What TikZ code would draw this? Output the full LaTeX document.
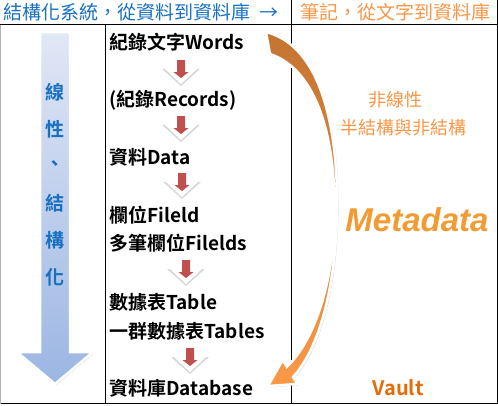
\documentclass[tikz,border=0pt]{standalone}
\usepackage{fontspec}
\setmainfont{Noto Sans CJK TC}[BoldFont={Noto Sans CJK TC Bold}]
\newfontfamily\metafont{Liberation Sans}
\usepackage{xcolor}
\usetikzlibrary{shadows}

\definecolor{headblue}{RGB}{23,112,192}
\definecolor{headorange}{RGB}{247,150,70}
\definecolor{vaultorange}{RGB}{228,108,10}
\definecolor{stepred}{RGB}{192,80,77}
\definecolor{arrowtop}{RGB}{225,231,245}
\definecolor{arrowbot}{RGB}{155,182,227}
\definecolor{curvetop}{RGB}{196,116,50}
\definecolor{curvebot}{RGB}{250,152,70}
\definecolor{metaorange}{RGB}{242,155,50}

\begin{document}
\begin{tikzpicture}[
    x=1pt, y=-1pt,
    every node/.style={inner sep=0pt},
    gridline/.style={black, line width=0.9pt},
    headtext/.style={anchor=west, font=\fontsize{19}{22}\selectfont},
    item/.style={anchor=west, font=\bfseries\fontsize{19}{22}\selectfont},
    vtext/.style={headblue, font=\bfseries\fontsize{19}{22}\selectfont},
    notetext/.style={headorange, font=\fontsize{18}{21}\selectfont},
    steparrow/.pic={
        \fill[gray!30] (-7,-11) -- (7,-11) -- (7,-3) -- (19,-3) -- (0,14) -- (-19,-3) -- (-7,-3) -- cycle;
        \fill[white] (-7,-13) -- (7,-13) -- (7,-5) -- (18,-5) -- (0,12) -- (-18,-5) -- (-7,-5) -- cycle;
        \fill[stepred] (-4,-12) -- (4,-12) -- (4,0) -- (7.5,0) -- (0,6) -- (-7.5,0) -- (-4,0) -- cycle;
    }
]

\useasboundingbox (0,0) rectangle (498,405);

% Table rules
\draw[gridline] (0,24.5) -- (497.5,24.5);
\draw[gridline] (0,403.5) -- (497.5,403.5);
\draw[gridline] (291,0) -- (291,403.5);
\draw[gridline] (105.5,24.5) -- (105.5,403.5);
\draw[gridline] (497.5,0) -- (497.5,403.5);
\draw[gray!60, line width=0.8pt] (0.5,24.5) -- (0.5,403.5);

% Header row
\node[headtext, headblue] (headleft) at (3,12)
    {結構化系統，從資料到資料庫\hspace{9pt}→};
\node[headtext, headorange] (headright) at (300,12)
    {筆記，從文字到資料庫};

% Big down arrow
\draw[white, line width=2.5pt, top color=arrowtop, bottom color=arrowbot,
      drop shadow={opacity=0.25, shadow xshift=1pt, shadow yshift=-1.5pt}]
    (40,32) -- (70,32) -- (70,352) -- (93,352)
    -- (55,384) -- (17,352) -- (40,352) -- cycle;

\foreach \c [count=\i] in {線,性,、,結,構,化}
    \node[vtext] (v\i) at (55,{92+37*(\i-1)}) {\c};

% Steps
\node[item] (words) at (109,42) {紀錄文字Words};
\node[item] (records) at (109,100) {(紀錄Records)};
\node[item] (data) at (109,157) {資料Data};
\node[item] (field) at (109,215) {欄位Fileld};
\node[item] (fields) at (109,243) {多筆欄位Filelds};
\node[item] (table) at (109,302) {數據表Table};
\node[item] (tables) at (109,331) {一群數據表Tables};
\node[item] (database) at (109,388) {資料庫Database};

\pic at (181,72) {steparrow};
\pic at (181,128) {steparrow};
\pic at (182,185) {steparrow};
\pic at (186,272) {steparrow};
\pic at (190,360) {steparrow};

% Curved arrow
\draw[white, line width=2.5pt, top color=curvetop, bottom color=curvebot,
      drop shadow={opacity=0.25, shadow xshift=1.5pt, shadow yshift=-1.5pt}]
    (266,32) .. controls (322,46) and (338,130) .. (337,210)
    .. controls (336,290) and (318,350) .. (293,377)
    -- (297.4,383.9) -- (268,386) -- (282.6,360.1) -- (286.8,366.9)
    .. controls (313,342) and (334.5,285) .. (334.5,210)
    .. controls (335,140) and (318,70) .. (270,54) -- cycle;

% Right column
\node[notetext] (nonlinear) at (395,100) {非線性};
\node[notetext] (semi) at (403,128) {半結構與非結構};

\node[metaorange, font=\metafont\bfseries\itshape\fontsize{33}{36}\selectfont]
    (meta) at (417,220) {Metadata};

\node[vaultorange, font=\bfseries\fontsize{20}{22}\selectfont]
    (vault) at (398,388) {Vault};

\end{tikzpicture}
\end{document}
